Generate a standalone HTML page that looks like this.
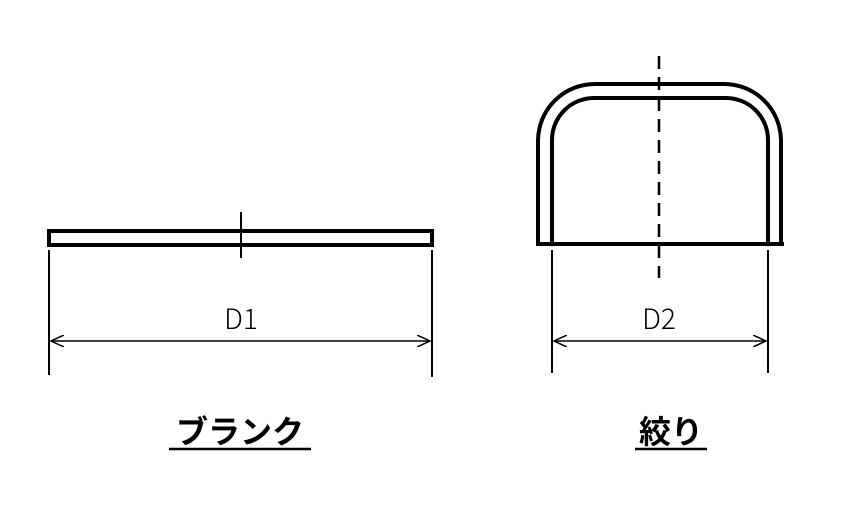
<!DOCTYPE html>
<html><head><meta charset="utf-8"><style>
body{margin:0;background:#fff;width:841px;height:519px;overflow:hidden}
</style></head><body>
<svg width="841" height="519" viewBox="0 0 841 519" xmlns="http://www.w3.org/2000/svg">
<defs><marker id="a" markerWidth="14" markerHeight="12" refX="13" refY="6" orient="auto-start-reverse" markerUnits="userSpaceOnUse"><path d="M0,0 L13,6 L0,12" fill="none" stroke="#000" stroke-width="1.5"/></marker></defs>
<g stroke="#000" fill="none">
<rect x="49" y="231" width="383" height="14" stroke-width="4"/>
<line x1="241" y1="212" x2="241" y2="258" stroke-width="2"/>
<line x1="49" y1="250" x2="49" y2="375" stroke-width="2"/>
<line x1="432" y1="250" x2="432" y2="377" stroke-width="2"/>
<line x1="51" y1="341" x2="430" y2="341" stroke-width="1.5" marker-start="url(#a)" marker-end="url(#a)"/>
<path d="M538,245 V140 A57,57 0 0 1 595,84 H724 A57,57 0 0 1 781,140 V245" stroke-width="4"/>
<path d="M552,245 V140 A42,42 0 0 1 594,98 H726 A42,42 0 0 1 768,140 V245" stroke-width="4"/>
<line x1="536" y1="244" x2="784" y2="244" stroke-width="4"/>
<line x1="659" y1="56" x2="659" y2="278" stroke-width="2.5" stroke-dasharray="13,8"/>
<line x1="552" y1="250" x2="552" y2="373" stroke-width="2"/>
<line x1="768" y1="250" x2="768" y2="373" stroke-width="2"/>
<line x1="554" y1="341" x2="766" y2="341" stroke-width="1.5" marker-start="url(#a)" marker-end="url(#a)"/>
</g>
<g font-family="'Noto Sans CJK JP',sans-serif" text-anchor="middle">
<text x="241" y="329" font-size="28" font-weight="300">D1</text>
<text x="659" y="329" font-size="28" font-weight="300">D2</text>
<text x="240" y="443" font-size="32" font-weight="bold">ブランク</text>
<text x="671" y="443" font-size="32" font-weight="bold">絞り</text>
</g>
<line x1="169" y1="449" x2="311" y2="449" stroke="#000" stroke-width="2.5"/>
<line x1="635" y1="449" x2="707" y2="449" stroke="#000" stroke-width="2.5"/>
</svg>
</body></html>
